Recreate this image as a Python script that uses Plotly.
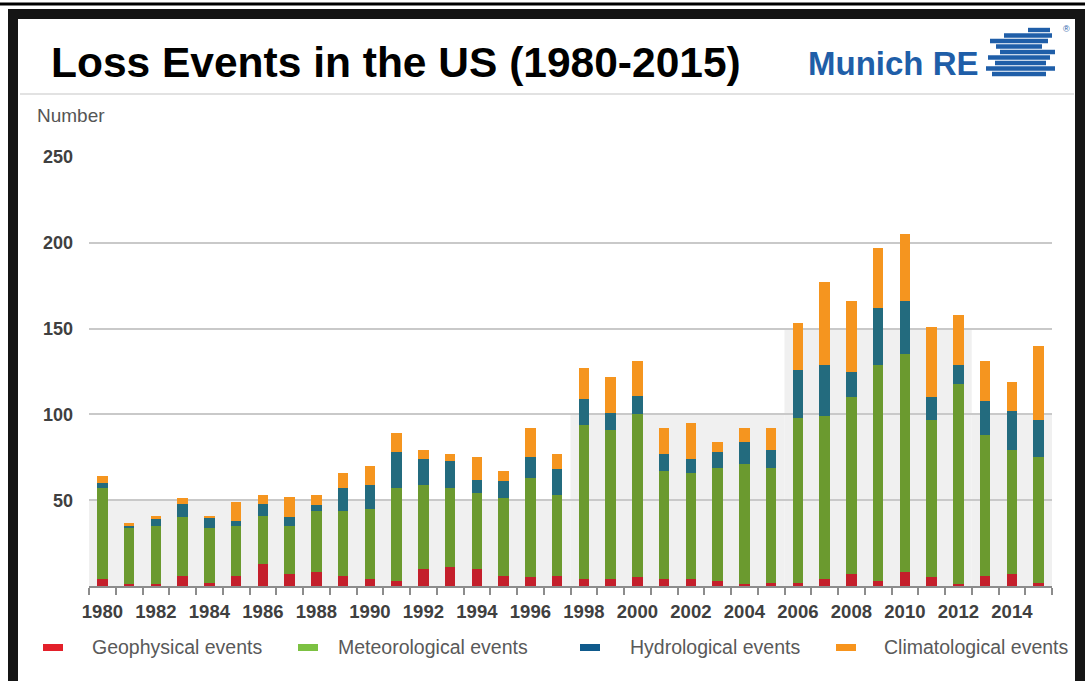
import plotly.graph_objects as go

# ---------------- data ----------------
years = list(range(1980, 2016))
geophysical = [4, 1, 1, 6, 2, 6, 13, 7, 8, 6, 4, 3, 10, 11, 10, 6, 5, 6,
               4, 4, 5, 4, 4, 3, 1, 2, 2, 4, 7, 3, 8, 5, 1, 6, 7, 2]
meteorological = [53, 33, 34, 34, 32, 29, 28, 28, 36, 38, 41, 54, 49, 46, 44, 45, 58, 47,
                  90, 87, 95, 63, 62, 66, 70, 67, 96, 95, 103, 126, 127, 92, 117, 82, 72, 73]
hydrological = [3, 1, 4, 8, 6, 3, 7, 5, 3, 13, 14, 21, 15, 16, 8, 10, 12, 15,
                15, 10, 11, 10, 8, 9, 13, 10, 28, 30, 15, 33, 31, 13, 11, 20, 23, 22]
climatological = [4, 2, 2, 3, 1, 11, 5, 12, 6, 9, 11, 11, 5, 4, 13, 6, 17, 9,
                  18, 21, 20, 15, 21, 6, 8, 13, 27, 48, 41, 35, 39, 41, 29, 23, 17, 43]

series_names = ["Geophysical events", "Meteorological events",
                "Hydrological events", "Climatological events"]
bar_colors = ["#c41f2b", "#6b9a2f", "#236b7e", "#f5951f"]
legend_colors = ["#e3202a", "#7cc142", "#0f5a8c", "#f7941d"]

y_ticks = [50, 100, 150, 200, 250]

# grey background band (step levels)
band_edges = [1979.5, 1997.5, 2005.5, 2012.5, 2015.5]
band_levels = [50, 100, 150, 100]

title_text = "Loss Events in the US (1980-2015)"
y_title = "Number"

# ---------------- layout helpers ----------------
W, H = 1085, 681
ML, MR, MT, MB = 89, 33, 157, 95
PW, PH = W - ML - MR, H - MT - MB


def px(xp):
    return (xp - ML) / PW


def py(yp):
    return (H - MB - yp) / PH


FONT = "Liberation Sans, Arial, Helvetica, sans-serif"

fig = go.Figure()
all_series = [geophysical, meteorological, hydrological, climatological]
for name, vals, col in zip(series_names, all_series, bar_colors):
    fig.add_trace(go.Bar(x=years, y=vals, name=name, marker_color=col,
                         marker_line_width=0, width=0.4, showlegend=False))

shapes = []
# grey band behind bars
for i, lvl in enumerate(band_levels):
    shapes.append(dict(type="rect", xref="x", yref="y", x0=band_edges[i], x1=band_edges[i + 1],
                       y0=0, y1=lvl, fillcolor="#f0f0f0", line_width=0, layer="below"))

# frame decoration
shapes.append(dict(type="rect", xref="paper", yref="paper", x0=px(0), x1=px(W), y0=py(2.5), y1=py(5.5),
                   fillcolor="#000000", line_width=0, layer="above"))
shapes.append(dict(type="rect", xref="paper", yref="paper", x0=px(13), x1=px(1080), y0=py(14), y1=py(686),
                   line=dict(color="#151515", width=10), fillcolor="rgba(0,0,0,0)", layer="above"))
# thin separator under title
shapes.append(dict(type="line", xref="paper", yref="paper", x0=px(20), x1=px(1074), y0=py(94), y1=py(94),
                   line=dict(color="#d9d9d9", width=1.5)))

# logo stripes
logo_rows = [(30, 1028, 1050), (35.5, 1004, 1052), (41, 990, 1048), (46.5, 996, 1042), (52, 1000, 1055),
             (57.5, 988, 1050), (63, 995, 1046), (68.5, 986, 1055), (74, 992, 1046)]
for yy, xa, xb in logo_rows:
    shapes.append(dict(type="rect", xref="paper", yref="paper", x0=px(xa), x1=px(xb),
                       y0=py(yy - 2.2), y1=py(yy + 2.2), fillcolor="#1f5ea8", line_width=0))

annotations = [
    dict(text=f"<b>{title_text}</b>", xref="paper", yref="paper", x=px(49), y=py(62),
         xanchor="left", yanchor="middle", showarrow=False,
         font=dict(family=FONT, size=42.5, color="#000000")),
    dict(text="<b>Munich RE</b>", xref="paper", yref="paper", x=px(806), y=py(64),
         xanchor="left", yanchor="middle", showarrow=False,
         font=dict(family=FONT, size=33, color="#1f5ea8")),
    dict(text="®", xref="paper", yref="paper", x=px(1066), y=py(29),
         xanchor="center", yanchor="middle", showarrow=False,
         font=dict(family=FONT, size=9, color="#1f5ea8")),
    dict(text=y_title, xref="paper", yref="paper", x=px(35), y=py(115),
         xanchor="left", yanchor="middle", showarrow=False,
         font=dict(family=FONT, size=19, color="#555555")),
]

# legend (markers + labels)
legend_marker_x = [43, 298, 580, 836]
legend_text_x = [90, 336, 628, 882]
for name, col, mx, tx in zip(series_names, legend_colors, legend_marker_x, legend_text_x):
    shapes.append(dict(type="rect", xref="paper", yref="paper", x0=px(mx), x1=px(mx + 20),
                       y0=py(644), y1=py(651), fillcolor=col, line_width=0))
    annotations.append(dict(text=name, xref="paper", yref="paper", x=px(tx), y=py(647),
                            xanchor="left", yanchor="middle", showarrow=False,
                            font=dict(family=FONT, size=19.5, color="#595959")))

fig.update_layout(
    width=W, height=H,
    margin=dict(l=ML, r=MR, t=MT, b=MB, pad=0),
    paper_bgcolor="white", plot_bgcolor="white",
    barmode="stack", bargap=0.6,
    showlegend=False,
    shapes=shapes, annotations=annotations,
    font=dict(family=FONT),
    xaxis=dict(range=[1979.5, 2015.5], tick0=1980, dtick=2, ticks="", showgrid=False,
               zeroline=False, showline=True, linecolor="#8c8c8c", linewidth=1.5,
               ticklabelstandoff=8,
               tickfont=dict(family=FONT, size=18.5, color="#404040", weight="bold"),
               minor=dict(ticks="outside", tick0=1979.5, dtick=1, ticklen=7,
                          tickcolor="#8c8c8c", tickwidth=1.5, showgrid=False)),
    yaxis=dict(range=[0, 250], tickvals=y_ticks, ticks="", showgrid=True,
               gridcolor="#c9c9c9", gridwidth=1.5, zeroline=False, showline=False,
               ticklabelstandoff=15,
               tickfont=dict(family=FONT, size=18, color="#404040", weight="bold")),
)

fig.write_html("out.html",
               config={"displayModeBar": False},
               post_script="document.body.style.margin='0';document.body.style.overflow='hidden';")
